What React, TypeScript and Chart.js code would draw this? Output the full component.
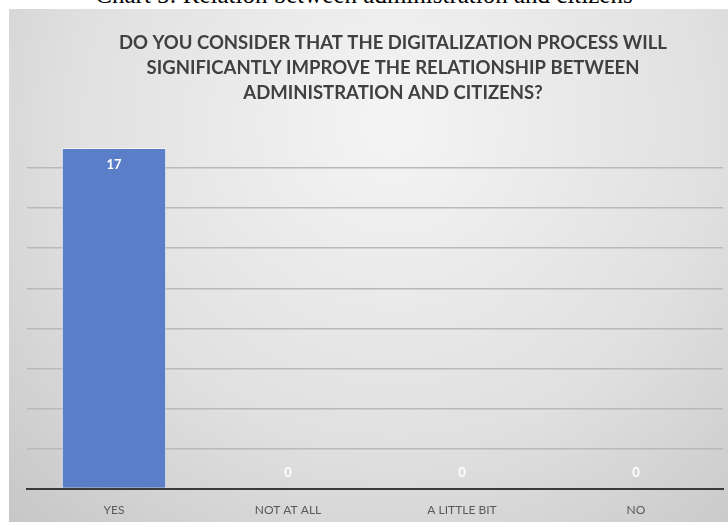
import React, { useEffect, useRef } from "react";
import { Chart, registerables } from "chart.js";

Chart.register(...registerables);

const caption = "Chart 5: Relation between administration and citizens";
const titleLines = [
  "DO YOU CONSIDER THAT THE DIGITALIZATION PROCESS WILL",
  "SIGNIFICANTLY IMPROVE THE RELATIONSHIP BETWEEN",
  "ADMINISTRATION AND CITIZENS?",
];
const categories = ["YES", "NOT AT ALL", "A LITTLE BIT", "NO"];
const values = [17, 0, 0, 0];
const yMax = 18;
const yStep = 2;

const FONT = "Lato, 'Open Sans', sans-serif";

const bgPlugin = {
  id: "bgGradient",
  beforeDraw(chart: any) {
    const { ctx, width, height } = chart;
    ctx.save();
    const g = ctx.createRadialGradient(width * 0.5, height * 0.22, 10, width * 0.5, height * 0.22, width * 0.75);
    g.addColorStop(0, "#f4f4f4");
    g.addColorStop(0.55, "#e0e0e0");
    g.addColorStop(1, "#c4c4c4");
    ctx.fillStyle = g;
    ctx.fillRect(0, 0, width, height);
    ctx.restore();
  },
};

const titlePlugin = {
  id: "customTitle",
  afterDraw(chart: any) {
    const { ctx, width } = chart;
    ctx.save();
    ctx.font = `bold 18.5px ${FONT}`;
    ctx.fillStyle = "#404040";
    ctx.textAlign = "center";
    ctx.textBaseline = "middle";
    titleLines.forEach((line, i) => {
      ctx.fillText(line, width / 2, 34.5 + i * 25);
    });
    ctx.restore();
  },
};

const labelPlugin = {
  id: "valueLabels",
  afterDatasetsDraw(chart: any) {
    const { ctx } = chart;
    const meta = chart.getDatasetMeta(0);
    const data = chart.data.datasets[0].data as number[];
    ctx.save();
    ctx.font = `bold 13px ${FONT}`;
    ctx.fillStyle = "#ffffff";
    ctx.textAlign = "center";
    ctx.textBaseline = "middle";
    meta.data.forEach((bar: any, i: number) => {
      const v = data[i];
      const y = v > 0 ? bar.y + 17 : bar.y - 16;
      ctx.fillText(String(v), bar.x, y);
    });
    ctx.restore();
  },
};

export default function App() {
  const ref = useRef<HTMLCanvasElement | null>(null);
  useEffect(() => {
    if (!ref.current) return;
    const chart = new Chart(ref.current, {
      type: "bar",
      data: {
        labels: categories,
        datasets: [
          {
            data: values,
            backgroundColor: "#5a7fc8",
            borderColor: "rgba(255,255,255,0.55)",
            borderWidth: 1,
            barPercentage: 0.6,
            categoryPercentage: 1,
          },
        ],
      },
      options: {
        responsive: false,
        animation: false,
        layout: { padding: { left: 18, right: 54, top: 119, bottom: 7 } },
        plugins: {
          legend: { display: false },
          tooltip: { enabled: false },
          title: { display: false },
        },
        scales: {
          x: {
            grid: { display: false, drawTicks: false },
            border: { display: true, color: "#3a3a3a", width: 2 },
            ticks: { color: "#595959", font: { family: FONT, size: 12 }, padding: 14 },
          },
          y: {
            min: 0,
            max: yMax,
            ticks: { display: false, stepSize: yStep },
            border: { display: false },
            grid: {
              drawTicks: false,
              lineWidth: 1.5,
              color: (c: any) => (c.tick && (c.tick.value === yMax || c.tick.value === 0) ? "rgba(0,0,0,0)" : "#b9b9b9"),
            },
          },
        },
      },
      plugins: [bgPlugin, labelPlugin, titlePlugin],
    });
    return () => chart.destroy();
  }, []);

  return (
    <div style={{ position: "fixed", left: 0, top: 0, width: 728, height: 522, overflow: "hidden", background: "#ffffff" }}>
      <div
        style={{
          position: "absolute",
          left: 0,
          top: -19,
          width: 728,
          textAlign: "center",
          fontFamily: "'Liberation Serif', 'Times New Roman', serif",
          fontSize: 25,
          lineHeight: "28px",
          color: "#000",
          whiteSpace: "nowrap",
        }}
      >
        {caption}
      </div>
      <div style={{ position: "absolute", left: 9, top: 9, width: 768, height: 529 }}>
        <canvas ref={ref} width={768} height={529} />
      </div>
    </div>
  );
}
